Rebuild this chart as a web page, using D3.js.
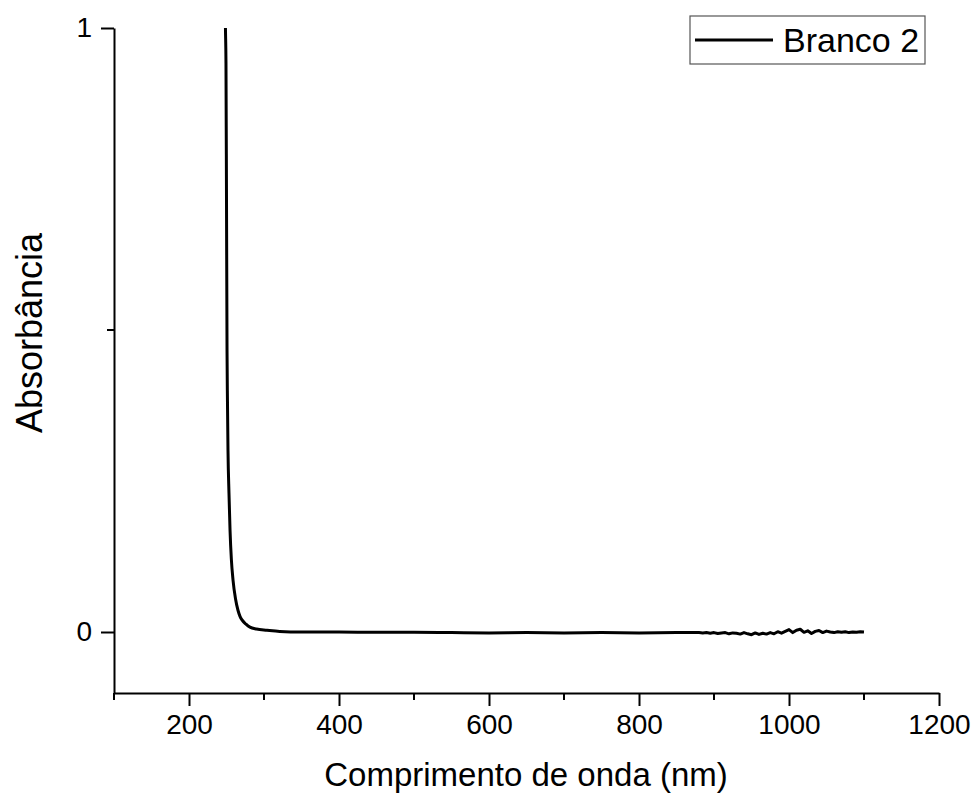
<!DOCTYPE html>
<html>
<head>
<meta charset="utf-8">
<script src="https://cdn.jsdelivr.net/npm/d3@7"></script>
<style>
  body { margin: 0; background: #fff; }
  svg { font-family: "Liberation Sans", Arial, sans-serif; }
</style>
</head>
<body>
<script>
// spectrum (nm, absorbance)
const wavelength = [247, 248.6, 249.3, 250, 250.7, 251.3, 252, 253.3, 254.7, 256.5, 258.7, 262, 265.3, 268, 270.7, 276, 281.3, 290, 304, 321, 350, 400, 450, 500, 550, 600, 650, 700, 750, 800, 850,
  880, 885, 890, 895, 900, 905, 910, 915, 920, 925, 930, 935, 940, 945, 950, 955, 960, 965, 970, 975, 980, 985, 990, 995,
  1000, 1005, 1010, 1015, 1020, 1025, 1030, 1035, 1040, 1045, 1050, 1055, 1060, 1065, 1070, 1075, 1080, 1085, 1090, 1095, 1100]
const absorbance = [1.2, 1.0, 0.942, 0.715, 0.467, 0.38, 0.30, 0.23, 0.169, 0.12, 0.086, 0.055, 0.036, 0.026, 0.020, 0.013, 0.008, 0.005, 0.003, 0.001, 0.0, 0.0, -0.0005, -0.0005, -0.001, -0.0015, -0.001, -0.0015, -0.001, -0.0015, -0.001,
  -0.001, -0.0015, -0.001, -0.002, -0.001, -0.0025, -0.0015, -0.001, -0.003, -0.0015, -0.002, -0.0035, -0.001, -0.003, -0.0045, -0.0015, -0.004, -0.002, -0.0035, -0.001, -0.003, 0.0005, -0.002, 0.001,
  0.004, -0.001, 0.003, 0.0045, -0.0005, 0.002, -0.0025, 0.001, 0.0025, -0.001, 0.0015, 0, -0.001, 0.0005, -0.0005, 0.0005, -0.001, 0, -0.0005, 0.0005, 0]

const xMajor = [200, 400, 600, 800, 1000, 1200]
const xMinor = [100, 300, 500, 700, 900, 1100]
const yMajor = [0, 1]
const yMinor = [0.5]
const seriesName = "Branco 2"

const width = 974
const height = 797

const svg = d3.select('body').append('svg')
    .attr('width', width)
    .attr('height', height)

const x = d3.scaleLinear().domain([100, 1200]).range([114, 939])
const y = d3.scaleLinear().domain([0, 1]).range([632, 28])
const yBottom = 693

svg.append('clipPath').attr('id', 'plot')
  .append('rect')
    .attr('x', 114).attr('y', 28)
    .attr('width', 825).attr('height', yBottom - 28)

const pts = wavelength.map((w, i) => [w, absorbance[i]])

// first part smooth, the noisy tail straight segments
const smooth = pts.filter(d => d[0] <= 880)
const noisy = pts.filter(d => d[0] >= 850)

svg.append('path')
    .datum(smooth)
    .attr('clip-path', 'url(#plot)')
    .attr('fill', 'none')
    .attr('stroke', '#000')
    .attr('stroke-width', 3)
    .attr('stroke-linejoin', 'round')
    .attr('d', d3.line().x(d => x(d[0])).y(d => y(d[1])).curve(d3.curveMonotoneX))

svg.append('path')
    .datum(noisy)
    .attr('fill', 'none')
    .attr('stroke', '#000')
    .attr('stroke-width', 3)
    .attr('stroke-linejoin', 'round')
    .attr('d', d3.line().x(d => x(d[0])).y(d => y(d[1])))

// x axis
const xAxis = svg.append('g').attr('transform', `translate(0,${yBottom})`)
xAxis.call(d3.axisBottom(x).tickValues(xMajor).tickSize(13).tickSizeOuter(0).tickPadding(8).tickFormat(d3.format('d')))
xAxis.append('g').selectAll('line').data(xMinor).join('line')
    .attr('x1', d => x(d)).attr('x2', d => x(d))
    .attr('y1', 0).attr('y2', 7)
    .attr('stroke', '#000').attr('stroke-width', 2)

// y axis
const yAxis = svg.append('g').attr('transform', 'translate(114,0)')
yAxis.call(d3.axisLeft(d3.scaleLinear().domain([y.invert(yBottom), 1]).range([yBottom, 28]))
    .tickValues(yMajor).tickSize(13).tickSizeOuter(0).tickPadding(9).tickFormat(d3.format('d')))
yAxis.append('g').selectAll('line').data(yMinor).join('line')
    .attr('y1', d => y(d)).attr('y2', d => y(d))
    .attr('x1', 0).attr('x2', -7)
    .attr('stroke', '#000').attr('stroke-width', 2)

svg.selectAll('.domain, .tick line')
    .attr('stroke', '#000')
    .attr('stroke-width', 2)
svg.selectAll('.tick text')
    .attr('font-size', 28)
    .attr('font-family', '"Liberation Sans", Arial, sans-serif')
    .attr('fill', '#000')

// titles
svg.append('text')
    .attr('x', 526).attr('y', 786)
    .attr('text-anchor', 'middle')
    .attr('font-size', 33)
    .text('Comprimento de onda (nm)')

svg.append('text')
    .attr('transform', 'translate(42,333) rotate(-90)')
    .attr('text-anchor', 'middle')
    .attr('font-size', 36)
    .text('Absorbância')

// legend
const legend = svg.append('g')
legend.append('rect')
    .attr('x', 690).attr('y', 16)
    .attr('width', 235).attr('height', 48)
    .attr('fill', '#fff')
    .attr('stroke', '#555').attr('stroke-width', 1.2)
legend.append('line')
    .attr('x1', 695).attr('x2', 773)
    .attr('y1', 40).attr('y2', 40)
    .attr('stroke', '#000').attr('stroke-width', 3)
legend.append('text')
    .attr('x', 783).attr('y', 52)
    .attr('font-size', 34)
    .text(seriesName)
</script>
</body>
</html>
